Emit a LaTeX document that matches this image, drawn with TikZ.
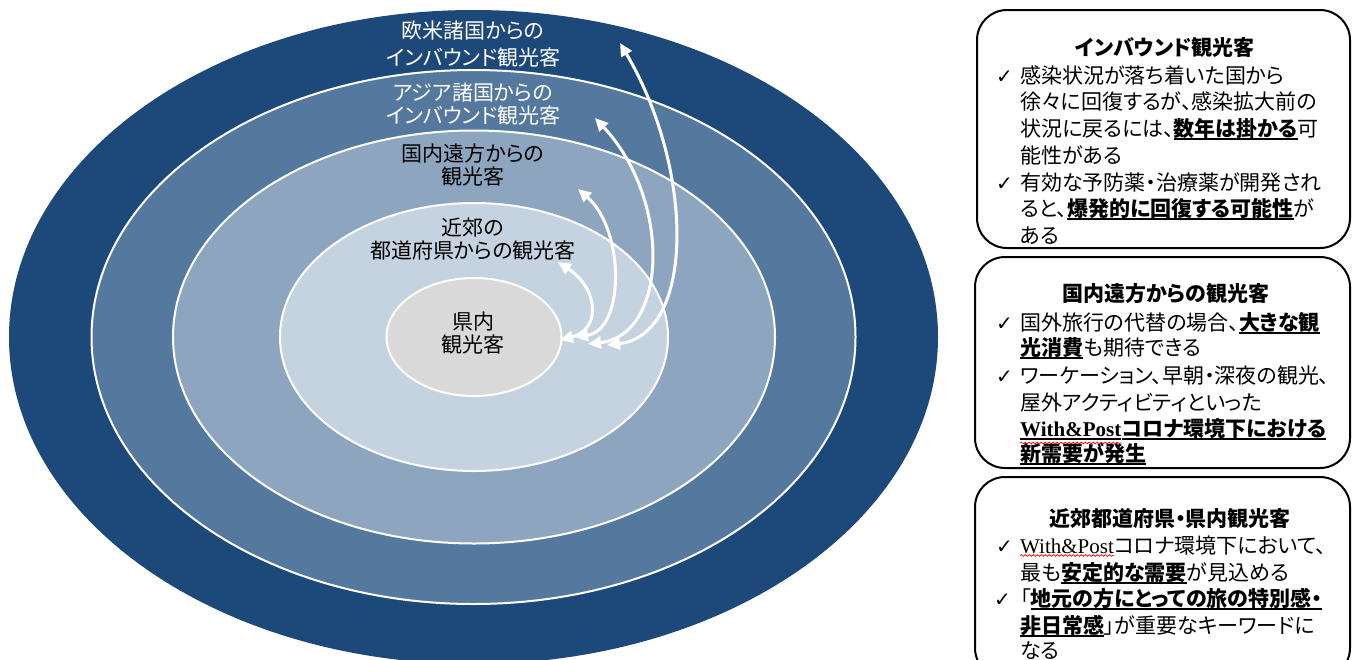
\documentclass[tikz,border=0pt]{standalone}
\usepackage{fontspec}
\setmainfont{Noto Sans CJK JP}[RawFeature=+palt]
\newfontfamily\dv{DejaVu Sans}
\newfontfamily\lat{Liberation Serif}
\usetikzlibrary{arrows.meta,decorations.pathmorphing}
\definecolor{cA}{RGB}{28,73,122}
\definecolor{cB}{RGB}{84,120,158}
\definecolor{cC}{RGB}{142,165,191}
\definecolor{cD}{RGB}{197,210,223}
\definecolor{cE}{RGB}{217,217,217}
\newcommand\ub[1]{\setbox0\hbox{\bfseries #1}\rlap{\rule[-4pt]{\wd0}{1.6pt}}\box0}
\tikzset{
  lbl/.style={align=center, inner sep=0pt, font=\fontsize{21}{23}\selectfont},
  ln/.style={anchor=base west, inner sep=0pt, font=\fontsize{21}{21}\selectfont},
  ckm/.style={anchor=base east, inner sep=0pt, font=\dv\fontsize{20}{20}\selectfont},
  ttl/.style={anchor=base, inner sep=0pt, font=\fontsize{21}{21}\selectfont\bfseries},
  rbox/.style={draw=black, line width=2pt, rounded corners=30pt, inner sep=0pt},
  arr/.style={white, line width=3pt, {Triangle[length=13pt,width=12pt]}-{Triangle[length=13pt,width=12pt]}},
  ring/.style={draw=white, line width=2pt},
  wavy/.style={red, line width=0.7pt, decorate, decoration={snake, amplitude=0.9pt, segment length=4pt}},
}
\begin{document}
\begin{tikzpicture}[x=1pt,y=-1pt]
\useasboundingbox (0,0) rectangle (1360,659);
\fill[white] (0,0) rectangle (1360,659);
% rings
\fill[cA] (473.5,337) ellipse [x radius=464.5pt, y radius=327pt];
\filldraw[fill=cB, ring] (473.5,337) ellipse [x radius=382pt, y radius=267pt];
\filldraw[fill=cC, ring] (474,337) ellipse [x radius=301pt, y radius=206.5pt];
\filldraw[fill=cD, ring] (474,337) ellipse [x radius=194pt, y radius=134pt];
\filldraw[fill=cE, ring] (474,337) ellipse [x radius=87.5pt, y radius=59pt];
% labels
\node[lbl, white, font=\fontsize{21}{27}\selectfont] (euro) at (473,44.5) {欧米諸国からの\\インバウンド観光客};
\node[lbl, white] (asia) at (473,104) {アジア諸国からの\\インバウンド観光客};
\node[lbl] (far) at (473,164.5) {国内遠方からの\\観光客};
\node[lbl] (near) at (473,239) {近郊の\\都道府県からの観光客};
\node[lbl] (pref) at (473,333) {県内\\観光客};
% arrows
\coordinate (a1s) at (560,340); \coordinate (a1e) at (558,262);
\coordinate (a2s) at (575,337); \coordinate (a2e) at (578,189);
\coordinate (a3s) at (588,344); \coordinate (a3e) at (595,118);
\coordinate (a4s) at (607,345); \coordinate (a4e) at (620,43);
\draw[arr] (a1s) .. controls (600,330) and (600,290) .. (a1e);
\draw[arr] (a2s) .. controls (625,330) and (625,230) .. (a2e);
\draw[arr] (a3s) .. controls (668,335) and (672,200) .. (a3e);
\draw[arr] (a4s) .. controls (695,335) and (695,170) .. (a4e);
% boxes
\node[rbox, minimum width=373pt, minimum height=238pt] (box1) at (1163.5,129) {};
\node[rbox, minimum width=375pt, minimum height=211pt] (box2) at (1162.5,362.5) {};
\node[rbox, minimum width=375pt, minimum height=201pt] (box3) at (1162.5,577.5) {};
% box 1 text
\node[ttl] (t1) at (1165,55) {インバウンド観光客};
\node[ckm] (c1a) at (1013,83) {✓};
\node[ln] (b1a) at (1020,83) {感染状況が落ち着いた国から};
\node[ln] (b1b) at (1020,109) {徐々に回復するが、感染拡大前の};
\node[ln] (b1c) at (1020,136) {状況に戻るには、\ub{数年は掛かる}可};
\node[ln] (b1d) at (1020,163) {能性がある};
\node[ckm] (c1e) at (1013,190) {✓};
\node[ln] (b1e) at (1020,190) {有効な予防薬・治療薬が開発され};
\node[ln] (b1f) at (1020,216) {ると、\ub{爆発的に回復する可能性}が};
\node[ln] (b1g) at (1020,243) {ある};
% box 2 text
\node[ttl] (t2) at (1166,301) {国内遠方からの観光客};
\node[ckm] (c2a) at (1013,330) {✓};
\node[ln] (b2a) at (1020,330) {国外旅行の代替の場合、\ub{大きな観}};
\node[ln] (b2b) at (1020,355) {\ub{光消費}も期待できる};
\node[ckm] (c2c) at (1013,383) {✓};
\node[ln] (b2c) at (1020,383) {ワーケーション、早朝・深夜の観光、};
\node[ln] (b2d) at (1020,410) {屋外アクティビティといった};
\node[ln] (b2e) at (1020,436) {\ub{\lat With\&Post}};
\node[ln] (b2f) at (b2e.base east) {\ub{コロナ環境下における}};
\node[ln] (b2g) at (1020,461) {\ub{新需要が発生}};
\draw[wavy] ([yshift=-7pt]b2e.base west) -- ([yshift=-7pt]b2e.base east);
% box 3 text
\node[ttl] (t3) at (1170,526) {近郊都道府県・県内観光客};
\node[ckm] (c3a) at (1013,553) {✓};
\node[ln] (b3a) at (1020,553) {\lat With\&Post};
\node[ln] (b3b) at (b3a.base east) {コロナ環境下において、};
\node[ln] (b3c) at (1020,580) {最も\ub{安定的な需要}が見込める};
\node[ckm] (c3d) at (1011,606) {✓};
\node[ln] (b3d) at (1020,606) {「\ub{地元の方にとっての旅の特別感・}};
\node[ln] (b3e) at (1020,633) {\ub{非日常感}」が重要なキーワードに};
\node[ln] (b3f) at (1020,658) {なる};
\draw[wavy] ([yshift=-2.5pt]b3a.base west) -- ([yshift=-2.5pt]b3a.base east);
\end{tikzpicture}
\end{document}
